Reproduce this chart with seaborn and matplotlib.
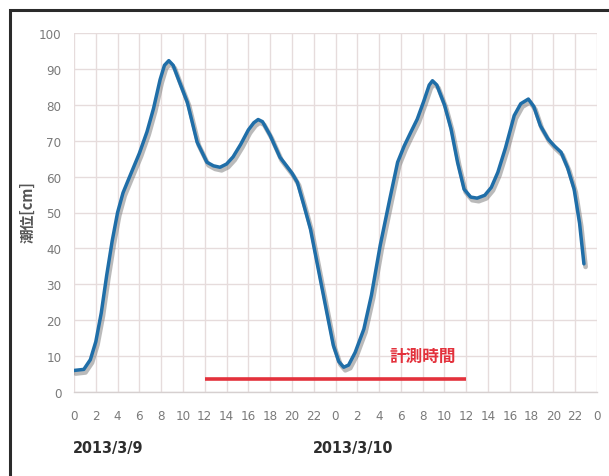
import matplotlib
matplotlib.use("Agg")
import matplotlib.pyplot as plt
import matplotlib.patheffects as pe
from matplotlib.lines import Line2D
import seaborn as sns
import pandas as pd

# Tide level over two days (hours from 2013/3/9 00:00)
hours = [0, 0.9, 1.5, 2, 2.5, 3, 3.5, 4, 4.5, 5.15, 6, 6.7, 7.3, 7.9, 8.3,
         8.7, 9.1, 9.6, 10.4, 11.3, 12.2, 12.8, 13.4, 14, 14.6, 15.3, 16,
         16.5, 16.9, 17.3, 18, 18.9, 19.5, 20, 20.5, 21.1, 21.7, 22.5, 23.2,
         23.8, 24.3, 24.75, 25.2, 25.8, 26.6, 27.3, 28.1, 29, 29.7, 30.3,
         30.9, 31.5, 32.1, 32.6, 32.9, 33.3, 34, 34.6, 35.2, 35.8, 36.4, 37,
         37.7, 38.3, 38.9, 39.6, 40.4, 41, 41.7, 42.2, 42.8, 43.5, 44.1, 44.7,
         45.3, 45.9, 46.4, 46.8]
tide_cm = [6.0, 6.3, 9, 14, 22, 32.5, 42, 50, 55.5, 60.3, 66.5, 72.5, 79, 87,
           91, 92.3, 91, 87, 80.7, 69.6, 64, 63, 62.6, 63.5, 65.5, 69, 73, 75,
           75.9, 75.3, 71.5, 65.4, 63, 61, 58.4, 52, 45.4, 33, 22.2, 13, 8.5,
           6.9, 7.5, 11, 17.5, 27, 40.8, 54, 64, 68.5, 72.3, 76, 81, 85.5,
           86.7, 85.5, 80, 73.3, 64, 56.5, 54.3, 54, 54.8, 57, 61.2, 68, 77,
           80.3, 81.6, 79.5, 74.2, 70.5, 68.5, 66.8, 62.5, 56.5, 47, 35.7]

x_ticks = list(range(0, 49, 2))
x_tick_labels = [str(h % 24) for h in x_ticks]
y_ticks = list(range(0, 101, 10))
date_labels = ["2013/3/9", "2013/3/10"]

measure_start, measure_end, measure_level = 12, 36, 3.5
measure_label = "計測時間"

df = pd.DataFrame({"hour": hours, "tide": tide_cm})

sns.set_theme(style="white")
plt.rcParams["font.family"] = ["DejaVu Sans"]
plt.rcParams["font.stretch"] = "condensed"

W, H = 609, 477
fig = plt.figure(figsize=(W / 100, H / 100), dpi=100)
fig.patch.set_facecolor("white")
ax = fig.add_axes([74 / W, 1 - 393 / H, (597 - 74) / W, (393 - 34) / H])

blue = "#1f6ea8"
sns.lineplot(data=df, x="hour", y="tide", ax=ax, color=blue, linewidth=2.5,
             zorder=4, solid_joinstyle="round", solid_capstyle="round",
             path_effects=[pe.SimpleLineShadow(offset=(1.2, -2.2),
                                               shadow_color="#777777",
                                               alpha=0.5, linewidth=3.4),
                           pe.Normal()])

# measurement period bar and caption
ax.hlines(measure_level, measure_start, measure_end, color="#e3313c",
          linewidth=2.6, zorder=3)
ax.text((measure_start + measure_end) / 2 + 8, 10, measure_label,
        color="#e3313c", fontsize=12, fontweight="bold", ha="center",
        va="center", family=["Noto Sans CJK JP", "DejaVu Sans"])

ax.set_xlim(0, 48)
ax.set_ylim(0, 100)
ax.set_xticks(x_ticks)
ax.set_xticklabels(x_tick_labels)
ax.set_yticks(y_ticks)
ax.grid(True, color="#e6dcdc", linewidth=1.0)
ax.set_axisbelow(True)
for side in ["top", "right", "left"]:
    ax.spines[side].set_visible(False)
ax.spines["bottom"].set_color("#d6d0d0")
ax.spines["bottom"].set_linewidth(1.0)
ax.tick_params(axis="both", length=0, labelcolor="#7a7a7a", labelsize=9.5)
ax.tick_params(axis="x", pad=12)
ax.tick_params(axis="y", pad=9)
ax.set_xlabel("")
ax.set_ylabel("潮位[cm]", fontsize=10.5, fontweight="bold", color="#555555",
              family=["Noto Sans CJK JP", "DejaVu Sans"])
ax.yaxis.set_label_coords(-38 / (597 - 74), (393 - 212) / (393 - 34))

# date captions under the hour axis
fig.text(73 / W, 1 - 449 / H, date_labels[0], fontsize=11.5,
         fontweight="bold", color="#2e2e2e", ha="left", va="center")
fig.text(313 / W, 1 - 449 / H, date_labels[1], fontsize=11.5,
         fontweight="bold", color="#2e2e2e", ha="left", va="center")

# outer frame (left and top edges)
fig.add_artist(Line2D([10 / W, 10 / W, 1.0], [0.0, 1 - 11 / H, 1 - 11 / H],
                      transform=fig.transFigure, color="#2b2b2b",
                      linewidth=2.2, solid_joinstyle="miter"))

fig.savefig("out.png", dpi=100)
